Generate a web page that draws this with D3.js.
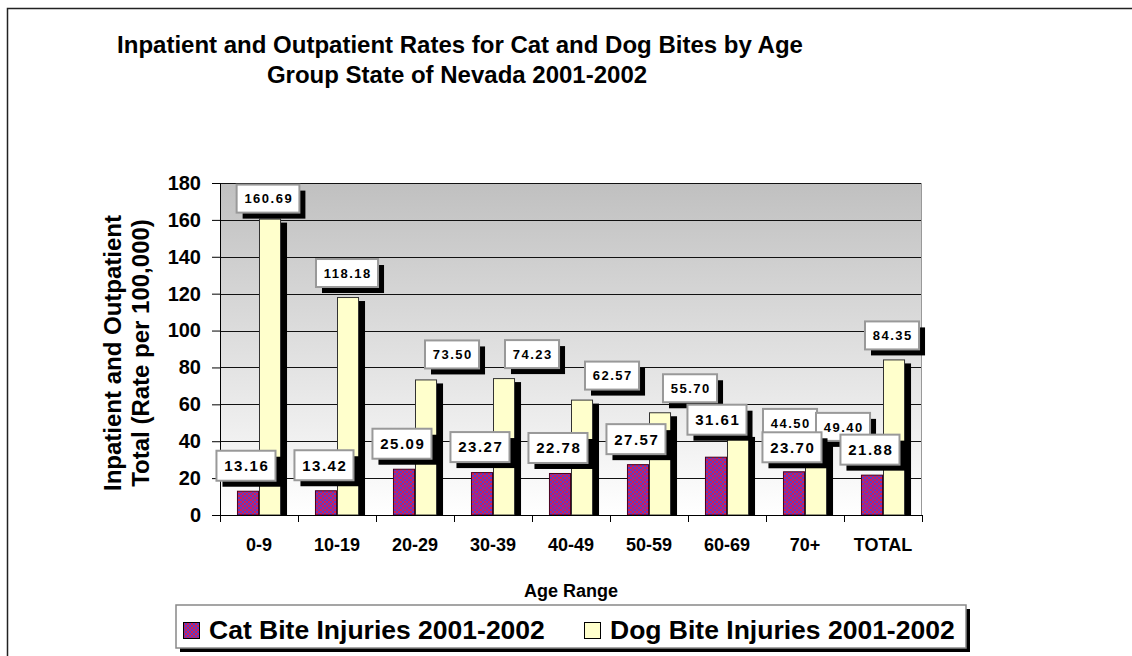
<!DOCTYPE html>
<html>
<head>
<meta charset="utf-8">
<script src="https://cdn.jsdelivr.net/npm/d3@7"></script>
<style>
  body { margin: 0; background: #fff; }
  svg text { font-family: "Liberation Sans", Arial, sans-serif; font-weight: bold; }
</style>
</head>
<body>
<div id="canvas"></div>
<script>
// chart data
const categories = ['0-9', '10-19', '20-29', '30-39', '40-49', '50-59', '60-69', '70+', 'TOTAL'];
const seriesNames = ['Cat Bite Injuries 2001-2002', 'Dog Bite Injuries 2001-2002'];
const catRates = [13.16, 13.42, 25.09, 23.27, 22.78, 27.57, 31.61, 23.70, 21.88];
const dogRates = [160.69, 118.18, 73.50, 74.23, 62.57, 55.70, 44.50, 49.40, 84.35];
const yTicks = [0, 20, 40, 60, 80, 100, 120, 140, 160, 180];

// labels were dragged around by hand in the original, nudge them the same way (px)
const catLabelNudge = [[0, 0], [0, 0], [0, 0], [0, 0], [0, 0], [0, 0], [3, -12], [0, 1], [0, 0]];
const dogLabelNudge = [[0, 4], [1, 0], [28, -1], [30, 0], [32, 0], [32, 0], [54, 14], [29, 27], [0, 0]];

const width = 1132, height = 656;
const margin = { top: 183, right: 210, bottom: 141, left: 220 };
const innerW = width - margin.left - margin.right;
const innerH = height - margin.top - margin.bottom;

const svg = d3.select('#canvas').append('svg')
  .attr('width', width)
  .attr('height', height);

const defs = svg.append('defs');

// plot area gradient
const grad = defs.append('linearGradient')
  .attr('id', 'plotGrad').attr('x1', 0).attr('y1', 0).attr('x2', 0).attr('y2', 1);
grad.append('stop').attr('offset', '0%').attr('stop-color', '#c0c0c0');
grad.append('stop').attr('offset', '100%').attr('stop-color', '#ffffff');

// red/blue checker used for cat bars
const pat = defs.append('pattern')
  .attr('id', 'catPat').attr('width', 4).attr('height', 4)
  .attr('patternUnits', 'userSpaceOnUse');
pat.append('rect').attr('width', 4).attr('height', 4).attr('fill', '#d81e50');
pat.append('rect').attr('width', 2).attr('height', 2).attr('fill', '#5a3cc8');
pat.append('rect').attr('x', 2).attr('y', 2).attr('width', 2).attr('height', 2).attr('fill', '#5a3cc8');

const fills = ['url(#catPat)', '#ffffcc'];

// outer chart frame
svg.append('rect')
  .attr('x', 7.5).attr('y', 8.5)
  .attr('width', 1200).attr('height', 800)
  .attr('fill', 'none').attr('stroke', '#222').attr('stroke-width', 1.5);

// title
const title = svg.append('text')
  .attr('text-anchor', 'middle')
  .attr('font-size', 24);
title.append('tspan').attr('x', 460).attr('y', 53)
  .text('Inpatient and Outpatient Rates for Cat and Dog Bites by Age');
title.append('tspan').attr('x', 457).attr('y', 83)
  .text('Group State of Nevada 2001-2002');

// scales
const xScale = d3.scaleBand()
  .domain(categories)
  .range([0, innerW]);

const xInner = d3.scaleBand()
  .domain(seriesNames)
  .range([0, xScale.bandwidth()])
  .paddingOuter(0.77);

const yScale = d3.scaleLinear()
  .domain([0, 180])
  .range([innerH, 0]);

const g = svg.append('g')
  .attr('transform', `translate(${margin.left},${margin.top})`);

// plot background
g.append('rect')
  .attr('width', innerW).attr('height', innerH)
  .attr('fill', 'url(#plotGrad)');
g.append('path')
  .attr('d', `M0,0.5H${innerW - 0.5}V${innerH}`)
  .attr('fill', 'none').attr('stroke', '#999');

// gridlines
g.selectAll('.grid')
  .data(yTicks.filter(d => d > 0))
  .enter().append('line')
    .attr('x1', 0).attr('x2', innerW - 1)
    .attr('y1', d => Math.round(yScale(d)) + 0.5)
    .attr('y2', d => Math.round(yScale(d)) + 0.5)
    .attr('stroke', '#111');

// bars: one row per series
const rows = seriesNames.map((name, s) => ({
  name, s, values: (s === 0 ? catRates : dogRates).map((v, i) => ({ cat: categories[i], v, i }))
}));

// shadows first
rows.forEach(r => {
  g.selectAll(null)
    .data(r.values)
    .enter().append('rect')
      .attr('x', d => xScale(d.cat) + xInner(r.name) + 6)
      .attr('y', d => yScale(d.v) + 4)
      .attr('width', xInner.bandwidth())
      .attr('height', d => innerH - yScale(d.v) - 4)
      .attr('fill', '#000');
});

rows.forEach(r => {
  g.selectAll(null)
    .data(r.values)
    .enter().append('rect')
      .attr('x', d => xScale(d.cat) + xInner(r.name) + 0.5)
      .attr('y', d => yScale(d.v) + 0.5)
      .attr('width', xInner.bandwidth() - 1)
      .attr('height', d => innerH - yScale(d.v) - 0.5)
      .attr('fill', fills[r.s])
      .attr('stroke', r.s === 0 ? '#4a0020' : '#333')
      .attr('stroke-width', 1);
});

// axes
const yAxis = g.append('g')
  .call(d3.axisLeft(yScale).tickValues(yTicks).tickSize(8).tickPadding(11));
yAxis.select('.domain').attr('stroke', '#000');
yAxis.selectAll('text').attr('font-size', 20).attr('fill', '#000')
  .style('font-family', '"Liberation Sans", Arial, sans-serif').style('font-weight', 'bold');

const xAxis = g.append('g')
  .attr('transform', `translate(0,${innerH})`)
  .call(d3.axisBottom(xScale).tickSize(0).tickPadding(23));
xAxis.select('.domain').attr('stroke', '#000').attr('d', `M0.5,0.5H${innerW}`);
xAxis.selectAll('text').attr('font-size', 18).attr('fill', '#000')
  .style('font-family', '"Liberation Sans", Arial, sans-serif').style('font-weight', 'bold');

// category boundary ticks
g.selectAll('.ctick')
  .data(d3.range(categories.length + 1))
  .enter().append('line')
    .attr('x1', i => Math.round(i * xScale.step()) + 0.5)
    .attr('x2', i => Math.round(i * xScale.step()) + 0.5)
    .attr('y1', innerH).attr('y2', innerH + 7)
    .attr('stroke', '#000');

// axis titles
svg.append('text')
  .attr('x', margin.left + innerW / 2).attr('y', 597)
  .attr('text-anchor', 'middle').attr('font-size', 18)
  .text('Age Range');

const yTitle = svg.append('text')
  .attr('transform', `translate(121,${margin.top + innerH / 2 + 4}) rotate(-90)`)
  .attr('text-anchor', 'middle').attr('font-size', 24);
yTitle.append('tspan').attr('x', 0).attr('y', 0).text('Inpatient and Outpatient');
yTitle.append('tspan').attr('x', 0).attr('y', 28).text('Total (Rate per 100,000)');

// data labels (white boxes with black drop shadow), dog first so cat sits on top
const labelData = [];
[rows[1], rows[0]].forEach(r => {
  r.values.forEach(d => {
    const nudge = (r.s === 0 ? catLabelNudge : dogLabelNudge)[d.i];
    labelData.push({
      text: d.v.toFixed(2),
      cx: xScale(d.cat) + xInner(r.name) + xInner.bandwidth() / 2 - 2 + nudge[0],
      bottom: yScale(d.v) - 10 + nudge[1],
      size: r.s === 0 ? 15 : 13,
      bh: r.s === 0 ? 30 : 28
    });
  });
});

const lab = g.selectAll('.lab')
  .data(labelData)
  .enter().append('g');

lab.each(function(d) {
  const el = d3.select(this);
  const t = el.append('text')
    .attr('text-anchor', 'middle')
    .attr('font-size', d.size)
    .attr('letter-spacing', 1.5)
    .attr('x', d.cx + 0.75)
    .attr('y', d.bottom - d.bh / 2 + d.size * 0.36)
    .text(d.text);
  const bb = t.node().getBBox();
  const bw = bb.width + 14;
  const bx = d.cx - bw / 2, by = d.bottom - d.bh;
  el.insert('rect', 'text')
    .attr('x', bx + 6).attr('y', by + 6).attr('width', bw).attr('height', d.bh)
    .attr('fill', '#000');
  el.insert('rect', 'text')
    .attr('x', bx).attr('y', by).attr('width', bw).attr('height', d.bh)
    .attr('fill', '#fff').attr('stroke', '#999').attr('stroke-width', 2);
});

// legend
const legX = 176, legY = 605, legW = 790, legH = 43;
svg.append('rect')
  .attr('x', legX + 4).attr('y', legY + 4).attr('width', legW).attr('height', legH)
  .attr('fill', '#000');
svg.append('rect')
  .attr('x', legX).attr('y', legY).attr('width', legW).attr('height', legH)
  .attr('fill', '#fff').attr('stroke', '#888').attr('stroke-width', 1.5);

const legItems = svg.selectAll('.leg')
  .data(seriesNames)
  .enter().append('g')
    .attr('transform', (d, i) => `translate(${i === 0 ? 183 : 584},${legY})`);
legItems.append('rect')
  .attr('x', 0.5).attr('y', 17.5).attr('width', 16).attr('height', 16)
  .attr('fill', (d, i) => fills[i]).attr('stroke', '#000');
legItems.append('text')
  .attr('x', 26).attr('y', 34)
  .attr('font-size', 26.5)
  .text(d => d);
</script>
</body>
</html>
